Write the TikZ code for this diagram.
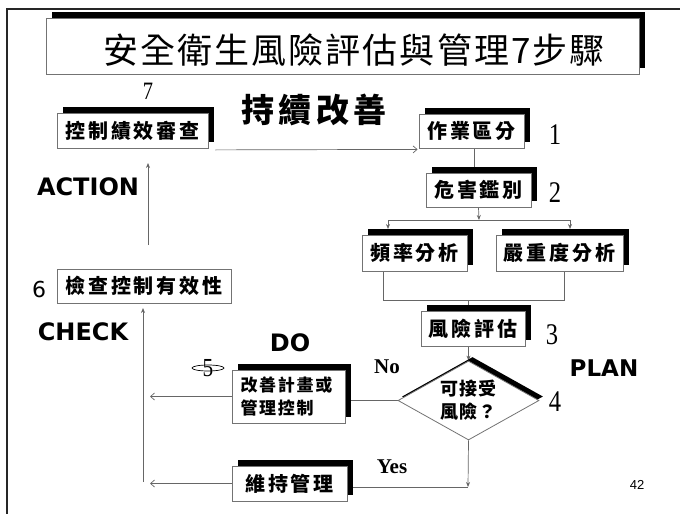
\documentclass[tikz,border=0pt]{standalone}
\usepackage{fontspec}
\setmainfont{Liberation Serif}
\newfontfamily\cjk{Noto Sans CJK TC}
\newfontfamily\sansf{DejaVu Sans}
\newfontfamily\arialf{Liberation Sans}
\usetikzlibrary{shapes.geometric,shadows,backgrounds,arrows.meta}
\newcommand{\narrownum}[1]{\scalebox{0.82}[1]{#1}}
\begin{document}
\begin{tikzpicture}[x=1pt,y=-1pt,
  sbox/.style={draw=black!55, fill=white, line width=0.8pt, inner sep=0pt,
    general shadow={fill=black, shadow xshift=6pt, shadow yshift=6pt}},
  pbox/.style={draw=black!55, fill=white, line width=0.8pt, inner sep=0pt},
  lab/.style={font={\cjk\bfseries\fontsize{20}{24}\selectfont\addfontfeature{LetterSpace=14}}},
  conn/.style={draw=black!60, line width=0.7pt},
  arr/.style={conn, -{Straight Barb[length=4pt,width=7pt]}},
  tri/.style={conn, -{Stealth[length=5pt,width=4pt]}},
  numf/.style={font=\fontsize{30}{34}\selectfont},
  pdca/.style={font={\sansf\bfseries\fontsize{24}{28}\selectfont}},
  yn/.style={font={\bfseries\fontsize{21}{24}\selectfont}},
]
\useasboundingbox (0,0) rectangle (680,514);

% frame
\draw[black!85, line width=2pt] (7,514) -- (7,9) -- (680,9);

% title
\node[sbox, minimum width=593pt, minimum height=56pt] (tb) at (342.5,46) {};
\node[font={\cjk\fontsize{35}{40}\selectfont\addfontfeature{LetterSpace=6}}] (title) at (354,50) {安全衛生風險評估與管理7步驟};

\node[font={\cjk\bfseries\fontsize{33}{38}\selectfont\addfontfeature{LetterSpace=14}}] (kaizen) at (314,110) {持續改善};

% boxes
\node[sbox, lab, minimum width=151pt, minimum height=35pt] (b7) at (132.5,130.5) {控制績效審查};
\node[sbox, lab, minimum width=105pt, minimum height=34pt] (b1) at (471.5,131) {作業區分};
\node[sbox, lab, minimum width=105pt, minimum height=34pt] (b2) at (478.5,190) {危害鑑別};
\node[sbox, lab, minimum width=105pt, minimum height=36pt] (fa) at (414.5,253) {頻率分析};
\node[sbox, lab, minimum width=127pt, minimum height=36pt] (sa) at (559.5,253) {嚴重度分析};
\node[sbox, lab, minimum width=104pt, minimum height=35pt] (b3) at (473,328.5) {風險評估};
\node[sbox, minimum width=113pt, minimum height=53pt, align=left, text width=96pt,
  font={\cjk\bfseries\fontsize{17}{23}\selectfont\addfontfeature{LetterSpace=10}}] (b5) at (288.5,396.5) {改善計畫或\\管理控制};
\node[sbox, lab, minimum width=115pt, minimum height=35pt] (b8) at (289.5,483.5) {維持管理};
\node[pbox, lab, minimum width=174pt, minimum height=34pt] (b6) at (144,286) {檢查控制有效性};
\node[diamond, draw=black!55, fill=white, line width=0.8pt, inner sep=0pt, aspect=1.8,
  minimum width=141pt, minimum height=79pt, align=center,
  general shadow={fill=black, shadow xshift=4pt, shadow yshift=4pt},
  font={\cjk\bfseries\fontsize{18}{23}\selectfont\addfontfeature{LetterSpace=8}}] (dia) at (468.5,400.5) {可接受\\風險？};

% numbers and labels
\node[font=\fontsize{25}{28}\selectfont] (n7) at (148,91) {\narrownum{7}};
\node[numf] (n1) at (555,135) {\narrownum{1}};
\node[numf] (n2) at (555,193) {\narrownum{2}};
\node[numf] (n3) at (552,335) {\narrownum{3}};
\node[numf] (n4) at (555,402) {\narrownum{4}};
\node[font=\fontsize{26}{28}\selectfont] (n5) at (208,368) {\narrownum{5}};
\draw[line width=0.7pt] (n5.center) ellipse (16 and 3);
\node[font={\sansf\fontsize{22}{26}\selectfont}] (n6) at (39,289) {6};

\node[pdca] (action) at (88,187) {ACTION};
\node[pdca] (check) at (83,332) {CHECK};
\node[pdca] (do) at (290,343) {DO};
\node[pdca, font={\sansf\bfseries\fontsize{23}{28}\selectfont}] (plan) at (604,368) {PLAN};
\node[yn] (no) at (387,367) {No};
\node[yn] (yes) at (392,467) {Yes};
\node[font={\arialf\fontsize{13}{15}\selectfont}] (pg) at (637,485) {42};

% connectors
\begin{scope}[on background layer]
\draw[arr] ([xshift=7pt,yshift=-1.5pt]b7.south east) -- ([xshift=-1pt,yshift=-1pt]b1.south west);
\draw[conn] ([xshift=2.5pt]b1.south) -- ([xshift=-4.5pt]b2.north);
\coordinate (split) at (479,220);
\coordinate (sl) at (388,220);
\coordinate (sr) at (570,220);
\coordinate (al) at (388,229);
\coordinate (ar) at (570,229);
\draw[tri] (b2.south) -- (split);
\draw[conn] (sl) -- (sr);
\draw[tri] (sl) -- (al);
\draw[tri] (sr) -- (ar);
\coordinate (ml) at (383,300);
\coordinate (mr) at (564,300);
\coordinate (mm) at (468,300);
\draw[conn] (fa.south -| ml) -- (ml) -- (mr) -- (sa.south -| mr);
\draw[conn] (mm) -- (mm |- b3.north);
\draw[tri] (b3.south -| dia.north) -- (dia.north);
\draw[arr] (dia.west) -- (dia.west -| b5.east);
\coordinate (lt) at (150,0);
\draw[arr] (b5.west) -- (b5.west -| lt);
\coordinate (yd) at (468,487);
\draw[tri] (dia.south) -- (yd);
\draw[conn] (yd) -- (yd -| b8.east);
\draw[arr] (b8.west) -- (b8.west -| lt);
\coordinate (cb) at (143,482);
\coordinate (cbt) at (143,308);
\draw[tri] (cb) -- (cbt);
\coordinate (ab) at (148,245);
\coordinate (at) at (148,163);
\draw[tri] (ab) -- (at);
\end{scope}
\end{tikzpicture}
\end{document}
